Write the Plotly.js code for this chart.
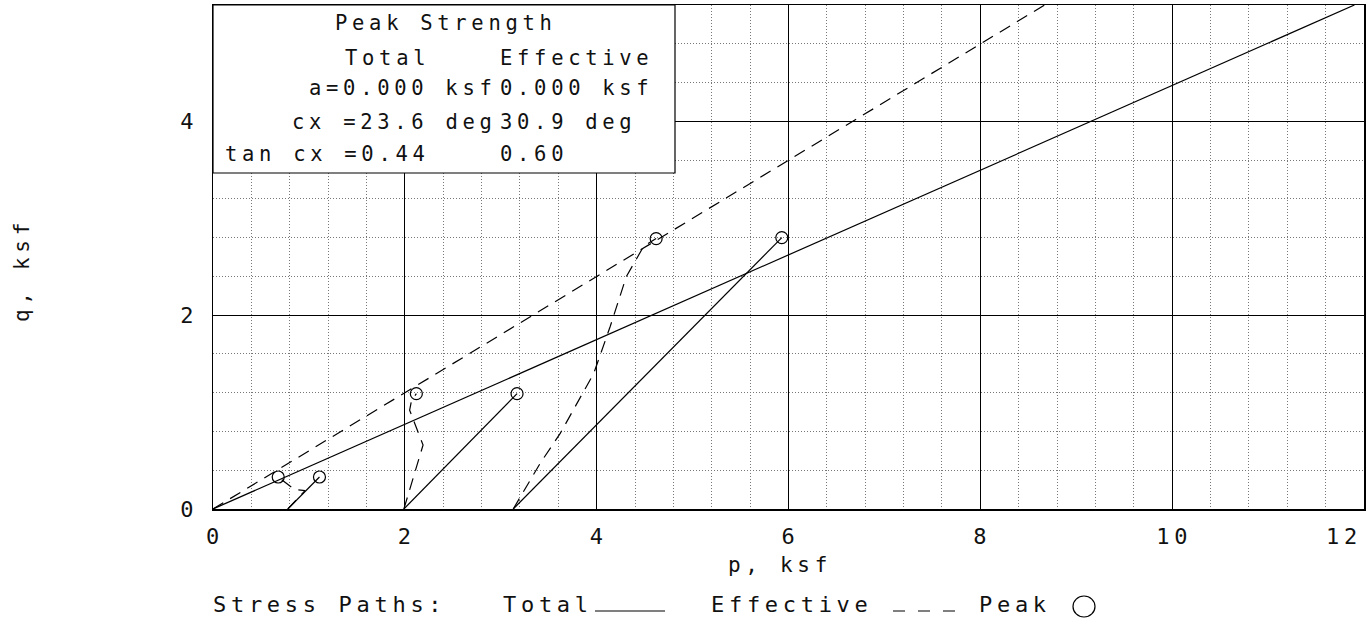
<!DOCTYPE html>
<html>
<head>
<meta charset="utf-8">
<script src="https://cdn.plot.ly/plotly-3.0.1.min.js"></script>
<style>
  html, body { margin: 0; padding: 0; background: #fff; }
  text { letter-spacing: 4.7px; }
</style>
</head>
<body>
<div id="chart" style="width:1372px;height:629px;"></div>
<script>
// Failure envelopes
const envTotalP = [0, 11.9];
const envTotalQ = [0, 5.2];
const envEffP = [0, 8.67];
const envEffQ = [0, 5.2];

// Total stress paths
const tot1P = [0.78, 1.11];
const tot1Q = [0, 0.33];
const tot2P = [1.99, 3.17];
const tot2Q = [0, 1.19];
const tot3P = [3.13, 5.93];
const tot3Q = [0, 2.80];

// Effective stress paths
const eff1P = [0.78, 0.96, 0.85, 0.68];
const eff1Q = [0, 0.19, 0.20, 0.33];
const eff2P = [1.99, 2.19, 2.05, 2.07, 2.12];
const eff2Q = [0, 0.66, 1.02, 1.12, 1.19];
const eff3P = [3.13, 3.41, 3.62, 3.97, 4.14, 4.31, 4.49, 4.62];
const eff3Q = [0, 0.47, 0.78, 1.40, 1.88, 2.40, 2.71, 2.79];

// Peak points
const peakP = [1.11, 3.17, 5.93, 0.68, 2.12, 4.62];
const peakQ = [0.33, 1.19, 2.80, 0.33, 1.19, 2.79];

// Tick labels (the last x label sits flush with the right edge, drawn as annotation)
const xTickVals = [0, 2, 4, 6, 8, 10, 12];
const xTickText = ['0', '2', '4', '6', '8', '10', ''];
const xLastTickVal = 12;
const xLastTickText = '12';
const yTickVals = [0, 2, 4];
const yTickText = ['0', '2', '4'];

// Strength box text
const boxTitle = 'Peak Strength';
const boxHeaders = ['Total', 'Effective'];
const boxRowLabels = ['a=0.000 ksf', 'cx =23.6 deg', 'tan cx =0.44'];
const boxRowEff = ['0.000 ksf', '30.9 deg', '0.60'];

const FONT = 'DejaVu Sans Mono';
const INK = '#111';
const solid = {color: '#000', width: 1.2};
const dashed = {color: '#000', width: 1.2, dash: '12px,8px'};

function line(x, y, l) {
  return {type: 'scatter', mode: 'lines', x: x, y: y, line: l, hoverinfo: 'skip'};
}

const traces = [
  line(envTotalP, envTotalQ, solid),
  line(envEffP, envEffQ, dashed),
  line(tot1P, tot1Q, solid),
  line(tot2P, tot2Q, solid),
  line(tot3P, tot3Q, solid),
  line(eff1P, eff1Q, dashed),
  line(eff2P, eff2Q, dashed),
  line(eff3P, eff3Q, dashed),
  {type: 'scatter', mode: 'markers', x: peakP, y: peakQ,
   marker: {symbol: 'circle-open', size: 12, color: '#000', line: {width: 1.2, color: '#000'}},
   hoverinfo: 'skip'}
];

// helpers for paper coordinates from the plot frame
const L = 213, R = 1364, T = 5, B = 509;
const px = v => (v - L) / (R - L);
const py = v => (B - v) / (B - T);

const boxFont = {family: FONT, size: 20.5, color: INK};
const legFont = {family: FONT, size: 22, color: INK};
const tickFont = {family: FONT, size: 22, color: INK};

function boxText(text, x, y, anchor) {
  return {text: text, x: x, y: y, xref: 'x', yref: 'y', xanchor: anchor, yanchor: 'middle', showarrow: false, font: boxFont};
}
function paperText(text, x, y, font, extra) {
  return Object.assign({text: text, x: px(x), y: py(y), xref: 'paper', yref: 'paper', xanchor: 'left', yanchor: 'middle', showarrow: false, font: font}, extra || {});
}

const annotations = [
  boxText(boxTitle, 2.43, 5.013, 'center'),
  boxText(boxHeaders[0], 1.356, 4.651, 'left'),
  boxText(boxHeaders[1], 2.972, 4.651, 'left'),
  boxText(boxRowLabels[0], 0.98, 4.341, 'left'),
  boxText(boxRowEff[0], 2.972, 4.341, 'left'),
  boxText(boxRowLabels[1], 0.803, 3.995, 'left'),
  boxText(boxRowEff[1], 2.972, 3.995, 'left'),
  boxText(boxRowLabels[2], 0.104, 3.659, 'left'),
  boxText(boxRowEff[2], 2.972, 3.659, 'left'),
  // last x tick label, right-aligned at its tick
  {text: xLastTickText, x: xLastTickVal, y: py(536), xref: 'x', yref: 'paper', xanchor: 'right', yanchor: 'middle',
   showarrow: false, font: tickFont},
  // axis titles
  paperText('p, ksf', 780, 565, {family: FONT, size: 21, color: INK}, {xanchor: 'center'}),
  paperText('q, ksf', 22, 270, {family: FONT, size: 21, color: INK}, {xanchor: 'center', textangle: -90}),
  // bottom legend
  paperText('Stress Paths:', 211, 604, legFont),
  paperText('Total', 501, 604, legFont),
  paperText('Effective', 709, 604, legFont),
  paperText('Peak', 977, 604, legFont)
];

const shapes = [
  // strength box
  {type: 'rect', xref: 'paper', yref: 'paper', x0: 0, x1: px(675), y0: py(173), y1: 1,
   fillcolor: '#fff', line: {color: '#000', width: 1.2}, layer: 'above'},
  // legend keys
  {type: 'line', xref: 'paper', yref: 'paper', x0: px(595), x1: px(665), y0: py(611), y1: py(611),
   line: {color: '#000', width: 1.2}},
  {type: 'line', xref: 'paper', yref: 'paper', x0: px(893), x1: px(955), y0: py(611), y1: py(611),
   line: {color: '#000', width: 1.2, dash: '12px,13px'}},
  {type: 'circle', xref: 'paper', yref: 'paper', x0: px(1073), x1: px(1095), y0: py(617), y1: py(596),
   line: {color: '#000', width: 1.2}}
];

const axisCommon = {
  showgrid: true, gridcolor: '#000', gridwidth: 1,
  minor: {dtick: 0.4, tick0: 0, showgrid: true, gridcolor: '#777', gridwidth: 1, griddash: '1px,2px'},
  showline: true, mirror: true, linecolor: '#000', linewidth: 1.5,
  zeroline: false, ticks: '', tickmode: 'array',
  tickfont: tickFont
};

const layout = {
  width: 1372, height: 629,
  margin: {l: L, r: 1372 - R, t: T, b: 629 - B, pad: 0},
  paper_bgcolor: '#fff', plot_bgcolor: '#fff',
  showlegend: false,
  xaxis: Object.assign({}, axisCommon, {range: [0, 12], tickvals: xTickVals, ticktext: xTickText, ticklabelstandoff: 7, ticklabelshift: 2}),
  yaxis: Object.assign({}, axisCommon, {range: [0, 5.2], tickvals: yTickVals, ticktext: yTickText, ticklabelstandoff: 9}),
  annotations: annotations,
  shapes: shapes
};

Plotly.newPlot('chart', traces, layout, {displayModeBar: false, staticPlot: true});
</script>
</body>
</html>
